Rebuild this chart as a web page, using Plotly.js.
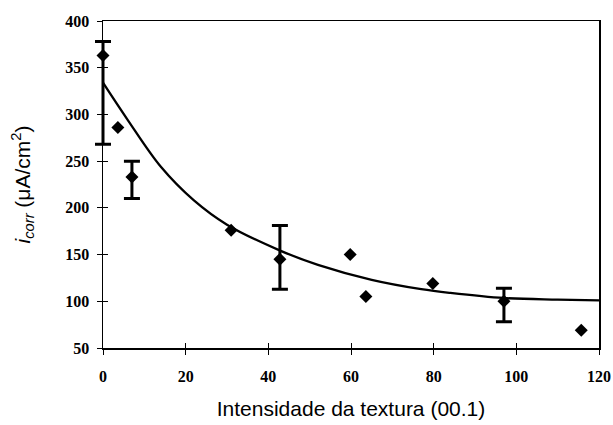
<!DOCTYPE html>
<html>
<head>
<meta charset="utf-8">
<script src="https://cdn.plot.ly/plotly-3.0.1.min.js"></script>
<style>html,body{margin:0;padding:0;background:#fff;}#chart{width:613px;height:425px;}</style>
</head>
<body>
<div id="chart"></div>
<script>
// Points with error bars
const errX = [0, 7.0, 42.8, 97];
const errY = [363, 233, 145, 100];
const errPlus = [15, 17, 36, 14];
const errMinus = [95, 23, 32, 22];
// Points without error bars
const dotX = [3.6, 31, 59.8, 63.6, 79.8, 115.7];
const dotY = [286, 176, 150, 105, 119, 69];
// Fitted curve
const curveX = [0, 6, 14, 22, 30, 43, 52, 65, 77, 84, 97, 110, 120];
const curveY = [334, 294, 244, 208, 182, 154, 139, 123, 113, 109, 103.5, 101.8, 101];
// Axis ticks
const xTicks = [0, 20, 40, 60, 80, 100, 120];
const yTicks = [50, 100, 150, 200, 250, 300, 350, 400];

const tickFont = {family: 'Liberation Serif, Times New Roman, serif', size: 16, color: '#000', weight: 'bold'};
const titleFont = {family: 'Liberation Sans, Arial, sans-serif', size: 21, color: '#000'};

// geometry: outer area (for error-bar layer) 80..599 px, main plot 103..599 px
const W = 613, ML = 80, MR = 14;
const areaW = W - ML - MR;
const mainLeft = 103;
const domStart = (mainLeft - ML) / areaW;
const pxPerUnit = (W - MR - mainLeft) / 120;
const extMin = -(mainLeft - ML) / pxPerUnit;

const traces = [
  {
    x: curveX, y: curveY, type: 'scatter', mode: 'lines',
    line: {color: '#000', width: 2.3, shape: 'spline', smoothing: 1},
    hoverinfo: 'skip', showlegend: false
  },
  {
    x: dotX, y: dotY, type: 'scatter', mode: 'markers', cliponaxis: false,
    marker: {symbol: 'diamond', size: 10, color: '#000'},
    showlegend: false
  },
  {
    x: errX, y: errY, xaxis: 'x3', yaxis: 'y3', type: 'scatter', mode: 'markers', cliponaxis: false,
    marker: {symbol: 'diamond', size: 10, color: '#000'},
    error_y: {type: 'data', symmetric: false, array: errPlus, arrayminus: errMinus,
      color: '#000', thickness: 3, width: 8},
    showlegend: false
  },
  {x: [0], y: [50], xaxis: 'x2', yaxis: 'y2', mode: 'markers', marker: {opacity: 0}, showlegend: false, hoverinfo: 'skip'}
];

const layout = {
  width: W, height: 425,
  margin: {l: ML, r: MR, t: 21, b: 77},
  paper_bgcolor: '#fff', plot_bgcolor: 'rgba(0,0,0,0)',
  showlegend: false,
  xaxis: {
    domain: [domStart, 1],
    range: [0, 120], tickvals: xTicks, ticks: 'outside', ticklen: 5, tickwidth: 1, tickcolor: '#000',
    showline: true, linecolor: '#000', linewidth: 1.5, mirror: true, showgrid: false, zeroline: false,
    tickfont: tickFont, ticklabelstandoff: 8,
    title: {text: 'Intensidade da textura (00.1)', font: titleFont, standoff: 17}
  },
  yaxis: {
    range: [50, 400], tickvals: yTicks, ticks: 'outside', ticklen: 5, tickwidth: 1, tickcolor: '#000',
    showline: true, linecolor: '#000', linewidth: 1.5, mirror: true, showgrid: false, zeroline: false,
    tickfont: tickFont, ticklabelstandoff: 4,
    title: {text: '<i>i<sub>corr</sub></i> (μA/cm<sup>2</sup>)', font: titleFont, standoff: 29}
  },
  xaxis2: {domain: [domStart, 1], range: [0, 120], tickvals: xTicks, ticks: 'inside', ticklen: 5, tickcolor: '#000', showticklabels: false,
    overlaying: 'x', showgrid: false, zeroline: false, showline: false},
  yaxis2: {range: [50, 400], tickvals: yTicks, ticks: 'inside', ticklen: 5, tickcolor: '#000', showticklabels: false,
    overlaying: 'y', showgrid: false, zeroline: false, showline: false},
  xaxis3: {domain: [0, 1], range: [extMin, 120], anchor: 'y3', visible: false, showgrid: false, zeroline: false},
  yaxis3: {domain: [0, 1], range: [50, 400], anchor: 'x3', visible: false, showgrid: false, zeroline: false}
};

Plotly.newPlot('chart', traces, layout, {displayModeBar: false, staticPlot: true});
</script>
</body>
</html>
